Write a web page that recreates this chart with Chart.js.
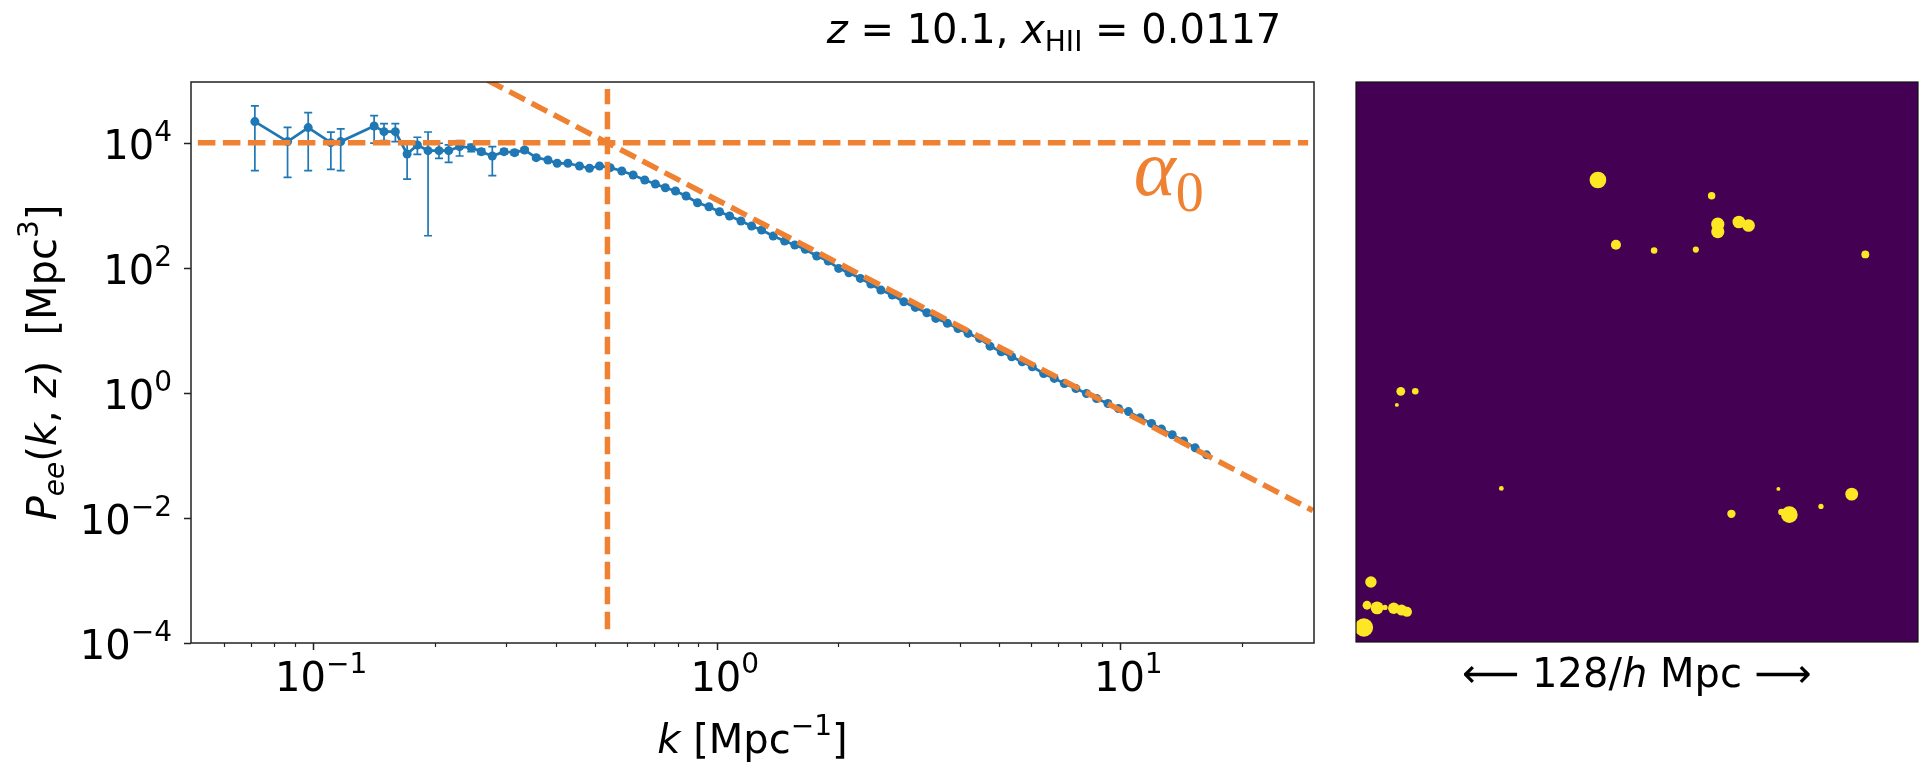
<!DOCTYPE html>
<html>
<head>
<meta charset="utf-8">
<script src="https://cdn.jsdelivr.net/npm/chart.js@4.4.1/dist/chart.umd.min.js"></script>
<style>
    html, body { margin: 0; padding: 0; background: #fff; }
    #wrap { position: relative; width: 1919px; height: 767px; overflow: hidden; }
    canvas { position: absolute; top: 0; }
    #pk { left: 0; }
    #slice { left: 1340px; }
</style>
</head>
<body>
<div id="wrap">
    <canvas id="pk" width="1919" height="767"></canvas>
    <canvas id="slice" width="579" height="767"></canvas>
</div>
<script>
// power spectrum P_ee(k) at z = 10.1
var kVals = [0.0717, 0.0864, 0.0972, 0.1106, 0.117, 0.1416, 0.1498, 0.1598, 0.1709, 0.1812,
    0.1926, 0.205, 0.2166, 0.2306, 0.2464, 0.261, 0.2779, 0.2971, 0.3155, 0.334,
    0.357, 0.3817, 0.4024, 0.4277, 0.4569, 0.4838, 0.5122, 0.5445, 0.5818, 0.6206,
    0.6631, 0.7045, 0.7458, 0.7904, 0.8395, 0.896, 0.9565, 1.016, 1.076, 1.148,
    1.22, 1.292, 1.38, 1.473, 1.561, 1.657, 1.769, 1.889, 2.005, 2.126,
    2.269, 2.409, 2.551, 2.723, 2.908, 3.105, 3.316, 3.49, 3.728, 3.961,
    4.196, 4.479, 4.756, 5.068, 5.382, 5.714, 6.052, 6.458, 6.862, 7.268,
    7.762, 8.244, 8.734, 9.318, 9.897, 10.48, 11.19, 11.95, 12.65, 13.45,
    14.35, 15.33, 16.36];
var pVals = [21700, 10400, 17400, 10000, 10400, 18500, 15000, 15000, 6590, 9190,
    7450, 7450, 7450, 8630, 8320, 7180, 6120, 7180, 6920, 7640,
    5750, 5280, 4680, 4680, 4240, 3900, 4240, 3981, 3524, 3041,
    2529, 2183, 1905, 1687, 1403, 1096, 946, 787, 671, 558,
    465, 401, 321, 267, 231, 197, 154, 128, 97.7, 83.2,
    67.6, 54.8, 44.0, 36.6, 28.6, 23.2, 19.1, 15.5, 12.9, 10.7,
    8.91, 7.41, 5.58, 4.53, 3.77, 3.13, 2.61, 2.04, 1.70, 1.41,
    1.17, 0.977, 0.813, 0.676, 0.562, 0.501, 0.398, 0.324, 0.263, 0.214,
    0.170, 0.132, 0.102];
// error bars (only the low-k bins have visible ones)
var pLo = [3570, 2790, 3570, 3750, 3570, 9800, 10800, 10400, 2620, 6520,
    325, 5620, 4850, 6120, 7200, 6500, 2970, 6600, 6400, 7100, 5400];
var pHi = [38600, 17600, 30200, 14700, 16600, 27000, 20100, 20100, 9780, 12200,
    14800, 9780, 9190, 10800, 9400, 7900, 8630, 7800, 7500, 8200, 6100];

// plateau alpha_0, break scale and the power-law tail
var plateauK = [0.0518, 29.2];
var plateauP = [1e4, 1e4];
var breakK = [0.536, 0.536];
var breakP = [1.66e-4, 7.24e4];
var tailK = [0.27, 30];
var tailP = [1.0e5, 0.0131];

// axis ticks
var xMajor = [0.1, 1, 10];
var xMinor = [0.06, 0.07, 0.08, 0.09, 0.2, 0.3, 0.4, 0.5, 0.6, 0.7, 0.8, 0.9,
    2, 3, 4, 5, 6, 7, 8, 9, 20];
var yMajor = [1e-4, 1e-2, 1, 1e2, 1e4];

// ionized regions in the 128/h Mpc slice
var blobX = [55.1, 81.0, 82.4, 82.4, 87.2, 89.4, 59.2, 67.9, 77.4, 116.0,
    10.2, 13.5, 9.3, 33.1, 112.9, 96.2, 98.7, 96.9, 85.5, 105.9,
    3.4, 2.5, 4.8, 8.6, 10.4, 11.6, 1.8, 6.6];
var blobY = [105.6, 102.0, 95.5, 93.8, 96.0, 95.2, 90.8, 89.5, 89.7, 88.6,
    57.3, 57.3, 54.2, 35.1, 33.8, 35.0, 29.1, 29.7, 29.3, 31.0,
    13.7, 8.4, 7.8, 7.7, 7.3, 6.9, 3.3, 7.9];
var blobR = [1.9, 0.85, 1.5, 1.5, 1.45, 1.45, 1.15, 0.75, 0.7, 0.9,
    1.0, 0.75, 0.45, 0.55, 1.45, 0.45, 1.9, 0.75, 0.95, 0.6,
    1.3, 1.0, 1.45, 1.3, 1.25, 1.15, 2.1, 0.6];

var C0 = '#1f77b4';
var C1 = '#ef8232';
var FONT = "'DejaVu Sans'";

function toPoints(xs, ys) {
    return xs.map(function (x, i) { return { x: x, y: ys[i] }; });
}

// draw text with italics / sub / superscripts, parts = [[text, flags]]
function richText(ctx, parts, x, y, size, align, family) {
    var pieces = parts.map(function (p) {
        var f = p[1] || '';
        var small = f.indexOf('b') >= 0 || f.indexOf('p') >= 0;
        var font = (f.indexOf('i') >= 0 ? 'italic ' : '') + Math.round(size * (small ? 0.7 : 1)) + 'px ' + (family || FONT);
        ctx.font = font;
        var dy = f.indexOf('b') >= 0 ? 0.2 * size : (f.indexOf('p') >= 0 ? -0.44 * size : 0);
        return { t: p[0], font: font, w: ctx.measureText(p[0]).width, dy: dy };
    });
    var total = pieces.reduce(function (a, p) { return a + p.w; }, 0);
    var cx = align === 'center' ? x - total / 2 : (align === 'right' ? x - total : x);
    ctx.textAlign = 'left';
    ctx.textBaseline = 'alphabetic';
    pieces.forEach(function (p) {
        ctx.font = p.font;
        ctx.fillText(p.t, cx, y + p.dy);
        cx += p.w;
    });
}

function expLabel(v) {
    var e = Math.round(Math.log10(v));
    return [['10'], [(e < 0 ? '\u2212' : '') + Math.abs(e), 'p']];
}

// error bars, frame, ticks and text for the spectrum panel
var spectrumDecor = {
    id: 'spectrumDecor',
    beforeDatasetsDraw: function (chart) {
        var ctx = chart.ctx, xs = chart.scales.x, ys = chart.scales.y;
        ctx.save();
        ctx.strokeStyle = C0;
        ctx.lineWidth = 1.7;
        pLo.forEach(function (lo, i) {
            var px = xs.getPixelForValue(kVals[i]);
            var y1 = ys.getPixelForValue(lo), y2 = ys.getPixelForValue(pHi[i]);
            ctx.beginPath();
            ctx.moveTo(px, y1); ctx.lineTo(px, y2);
            ctx.moveTo(px - 4, y1); ctx.lineTo(px + 4, y1);
            ctx.moveTo(px - 4, y2); ctx.lineTo(px + 4, y2);
            ctx.stroke();
        });
        ctx.restore();
    },
    afterDraw: function (chart) {
        var ctx = chart.ctx, a = chart.chartArea, xs = chart.scales.x, ys = chart.scales.y;
        ctx.save();
        ctx.strokeStyle = '#222';
        ctx.lineWidth = 1.5;
        ctx.strokeRect(a.left, a.top, a.right - a.left, a.bottom - a.top);

        ctx.beginPath();
        xMajor.forEach(function (v) {
            var px = Math.round(xs.getPixelForValue(v)) + 0.5;
            ctx.moveTo(px, a.bottom); ctx.lineTo(px, a.bottom + 7);
        });
        yMajor.forEach(function (v) {
            var py = Math.round(ys.getPixelForValue(v)) + 0.5;
            ctx.moveTo(a.left, py); ctx.lineTo(a.left - 7, py);
        });
        ctx.stroke();
        ctx.lineWidth = 1.2;
        ctx.beginPath();
        xMinor.forEach(function (v) {
            var px = Math.round(xs.getPixelForValue(v)) + 0.5;
            ctx.moveTo(px, a.bottom); ctx.lineTo(px, a.bottom + 4);
        });
        ctx.stroke();

        ctx.fillStyle = '#000';
        xMajor.forEach(function (v) {
            richText(ctx, expLabel(v), xs.getPixelForValue(v) + 8, a.bottom + 48, 40, 'center');
        });
        yMajor.forEach(function (v) {
            richText(ctx, expLabel(v), a.left - 19, ys.getPixelForValue(v) + 16, 40, 'right');
        });

        // axis titles
        richText(ctx, [['k', 'i'], [' [Mpc'], ['\u22121', 'p'], [']']], (a.left + a.right) / 2, 753, 40, 'center');
        ctx.save();
        ctx.translate(56, (a.top + a.bottom) / 2);
        ctx.rotate(-Math.PI / 2);
        richText(ctx, [['P', 'i'], ['ee', 'ib'], ['('], ['k', 'i'], [', '], ['z', 'i'], [')  [Mpc'], ['3', 'p'], [']']], 0, 0, 40, 'center');
        ctx.restore();

        // figure title over both panels
        richText(ctx, [['z', 'i'], [' = 10.1, '], ['x', 'i'], ['HII', 'b'], [' = 0.0117']], 1054, 43, 40, 'center');

        // plateau label
        ctx.fillStyle = C1;
        richText(ctx, [['\u03b1', 'i'], ['0', 'b']], xs.getPixelForValue(10.8), ys.getPixelForValue(1450), 80, 'left', "'Liberation Serif'");
        ctx.restore();
    }
};

new Chart(document.getElementById('pk'), {
    type: 'scatter',
    data: {
        datasets: [{
            data: toPoints(kVals, pVals),
            showLine: true,
            borderColor: C0,
            backgroundColor: C0,
            borderWidth: 2.7,
            pointRadius: 4.5,
            pointBorderWidth: 0,
            order: 2
        }, {
            data: toPoints(plateauK, plateauP),
            showLine: true,
            borderColor: C1,
            borderWidth: 5.5,
            borderDash: [17.5, 7.5],
            pointRadius: 0,
            order: 1
        }, {
            data: toPoints(breakK, breakP),
            showLine: true,
            borderColor: C1,
            borderWidth: 5.5,
            borderDash: [17.5, 7.5],
            pointRadius: 0,
            order: 1
        }, {
            data: toPoints(tailK, tailP),
            showLine: true,
            borderColor: C1,
            borderWidth: 5.5,
            borderDash: [17.5, 7.5],
            pointRadius: 0,
            order: 1
        }]
    },
    options: {
        responsive: false,
        animation: false,
        events: [],
        layout: { padding: { left: 0, right: 1919 - 1314, top: 82, bottom: 0 }, autoPadding: false },
        plugins: { legend: { display: false }, tooltip: { enabled: false } },
        scales: {
            x: {
                type: 'logarithmic', min: 0.0498, max: 30.2,
                grid: { display: false }, border: { display: false }, ticks: { display: false },
                afterFit: function (s) { s.height = 767 - 643; }
            },
            y: {
                type: 'logarithmic', min: 1e-4, max: 9.33e4,
                grid: { display: false }, border: { display: false }, ticks: { display: false },
                afterFit: function (s) { s.width = 191; }
            }
        }
    },
    plugins: [spectrumDecor]
});

// density slice: background, frame and scale caption
var sliceDecor = {
    id: 'sliceDecor',
    beforeDatasetsDraw: function (chart) {
        var a = chart.chartArea, ctx = chart.ctx;
        ctx.save();
        ctx.fillStyle = '#440154';
        ctx.fillRect(a.left, a.top, a.right - a.left, a.bottom - a.top);
        ctx.restore();
    },
    afterDraw: function (chart) {
        var a = chart.chartArea, ctx = chart.ctx;
        ctx.save();
        ctx.strokeStyle = '#111';
        ctx.lineWidth = 1.2;
        ctx.strokeRect(a.left, a.top, a.right - a.left, a.bottom - a.top);
        ctx.fillStyle = '#000';
        richText(ctx, [['\u27f5 128/'], ['h', 'i'], [' Mpc \u27f6']], (a.left + a.right) / 2, 687, 40, 'center');
        ctx.restore();
    }
};

new Chart(document.getElementById('slice'), {
    type: 'scatter',
    data: {
        datasets: [{
            data: toPoints(blobX, blobY),
            backgroundColor: '#fde725',
            borderWidth: 0,
            clip: 0,
            pointRadius: function (c) {
                var s = c.chart.scales.x;
                return s.getPixelForValue(blobR[c.dataIndex]) - s.getPixelForValue(0);
            }
        }]
    },
    options: {
        responsive: false,
        animation: false,
        events: [],
        layout: { padding: { left: 16, right: 1, top: 82, bottom: 125 }, autoPadding: false },
        plugins: { legend: { display: false }, tooltip: { enabled: false } },
        scales: {
            x: { type: 'linear', min: 0, max: 128, display: false },
            y: { type: 'linear', min: 0, max: 128, display: false }
        }
    },
    plugins: [sliceDecor]
});
</script>
</body>
</html>
